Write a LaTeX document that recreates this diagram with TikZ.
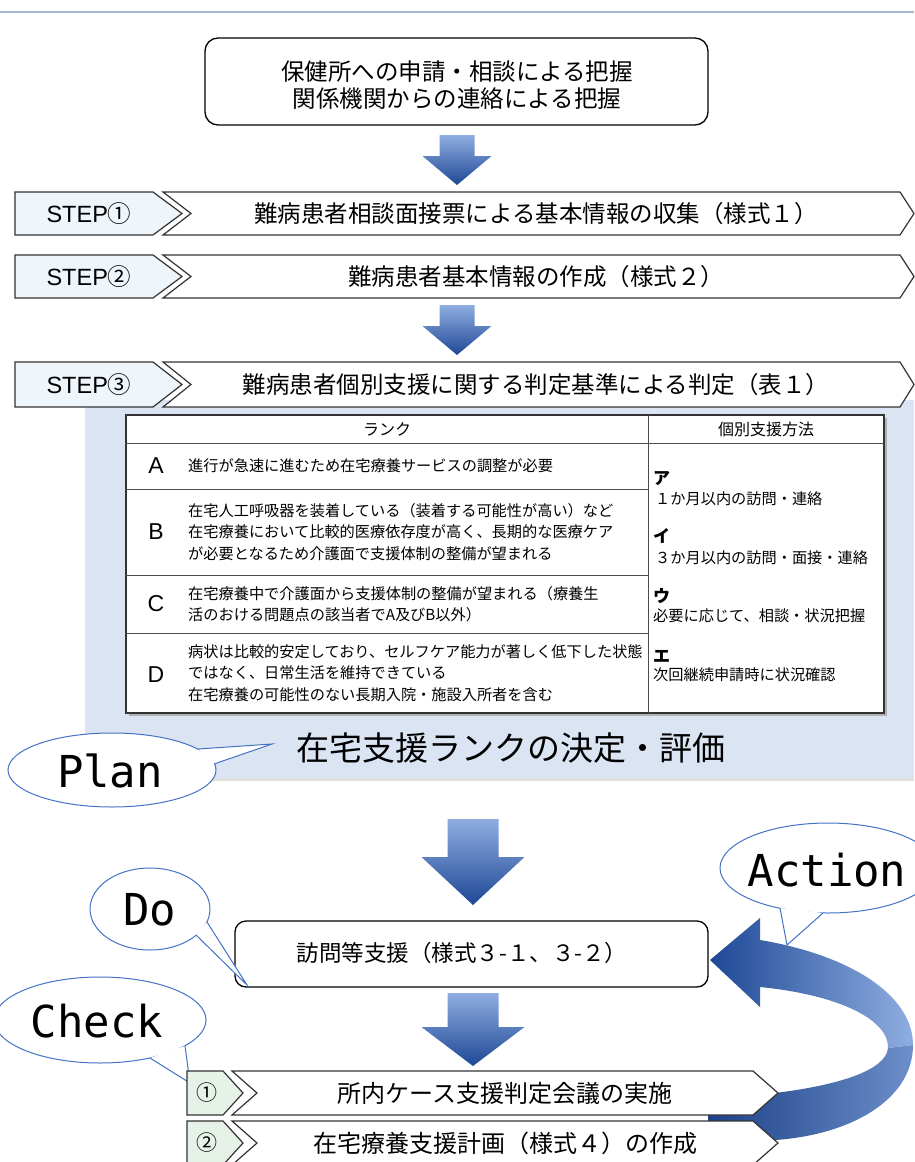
\documentclass[tikz,border=0pt]{standalone}
\usepackage{fontspec}
\setmainfont{Noto Sans CJK JP}
\newfontfamily\latin{Liberation Sans}
\newfontfamily\mono{DejaVu Sans Mono}
\newfontfamily\cjkf{Noto Sans CJK JP}
\definecolor{arrowlight}{RGB}{143,173,224}
\definecolor{arrowdark}{RGB}{30,72,150}
\definecolor{panelblue}{RGB}{219,228,243}
\definecolor{bubbleblue}{RGB}{68,114,196}
\definecolor{stepfill}{RGB}{238,245,251}
\definecolor{checkfill}{RGB}{230,242,232}
\definecolor{rulegray}{RGB}{165,185,205}
\newcommand\jfont[2]{\fontsize{#1}{#2}\selectfont}
\tikzset{
  stepleft/.style={draw=black!80, line width=1.2pt, fill=stepfill},
  checkleft/.style={draw=black!80, line width=1.2pt, fill=checkfill},
  stepright/.style={draw=black!80, line width=1.2pt, fill=white},
  steptext/.style={font=\jfont{23.5}{28}, inner sep=0pt},
  steplabel/.style={font=\latin\jfont{23.5}{28}, inner sep=0pt},
  bubble/.style={draw=bubbleblue, line width=1pt, fill=white},
  bubbletext/.style={font=\mono\jfont{44}{50}, inner sep=0pt},
  tabtext/.style={font=\jfont{15.2}{21.5}, anchor=west, inner sep=0pt, align=left},
  tabhead/.style={font=\jfont{16}{20}, inner sep=0pt},
  ranklet/.style={font=\latin\jfont{23}{26}, inner sep=0pt},
  kanalet/.style={font=\jfont{17}{20}\bfseries, anchor=west, inner sep=0pt},
  boxstyle/.style={draw=black, line width=1.3pt, fill=white, rounded corners=13pt},
  tabline/.style={draw=black!70, line width=1pt},
}
\newcommand\stepbar[5]{%
  \pgfmathsetmacro\ym{(#2+#3)/2}%
  \path[stepleft] (15,#2) -- (153,#2) -- (182,\ym) -- (153,#3) -- (15,#3) -- cycle;
  \path[stepright] (163,#2) -- (900,#2) -- (914,\ym) -- (900,#3) -- (163,#3) -- (191,\ym) -- cycle;
  \node[steplabel] (#1l) at (89,\ym) {#4};
  \node[steptext] (#1) at (536,\ym) {#5};
}
\newcommand\checkbar[5]{%
  \pgfmathsetmacro\ym{(#2+#3)/2}%
  \path[checkleft] (187,#2) -- (223,#2) -- (243,\ym) -- (223,#3) -- (187,#3) -- cycle;
  \path[stepright] (232,#2) -- (753,#2) -- (778,\ym) -- (753,#3) -- (232,#3) -- (257,\ym) -- cycle;
  \node[font=\jfont{21}{24}, inner sep=0pt] (#1l) at (207,\ym) {#4};
  \node[steptext, font=\jfont{24}{28}] (#1) at (505,\ym) {#5};
}
\newcommand\bigdown[6]{%
  \shade[top color=arrowlight, bottom color=arrowdark]
    (#1-#5,#2) -- (#1+#5,#2) -- (#1+#5,#3) -- (#1+#6,#3) -- (#1,#4)
    -- (#1-#6,#3) -- (#1-#5,#3) -- cycle;
}
\begin{document}
\begin{tikzpicture}[x=1pt,y=-1pt]
\useasboundingbox (0,0) rectangle (914,1162);
\fill[white] (0,0) rectangle (914,1162);
% top rule
\draw[rulegray, line width=2pt] (0,12) -- (914,12);
% top box
\draw[boxstyle] (205,38) rectangle (708,125);
\node[font=\jfont{23.5}{27}, align=center, inner sep=0pt] (start) at (457,85)
  {保健所への申請・相談による把握\\関係機関からの連絡による把握};
\bigdown{457}{135}{156}{185}{17.5}{34.5}
% steps 1,2
\stepbar{s1}{192}{235}{STEP{\cjkf ①}}{難病患者相談面接票による基本情報の収集（様式１）}
\stepbar{s2}{255}{298}{STEP{\cjkf ②}}{難病患者基本情報の作成（様式２）}
\bigdown{457}{305}{326}{355}{17.5}{34.5}
% panel
\fill[black!12] (88,403) rectangle (914,781);
\fill[panelblue] (85,400) rectangle (914,778);
\stepbar{s3}{362}{407}{STEP{\cjkf ③}}{難病患者個別支援に関する判定基準による判定（表１）}
% table
\fill[black!30] (129,418) rectangle (887,716);
\draw[black!80, line width=1.4pt, fill=white] (126,415) rectangle (884,713);
\draw[tabline] (648,415) -- (648,713);
\draw[tabline] (126,443) -- (884,443);
\draw[tabline] (126,489) -- (648,489);
\draw[tabline] (126,575) -- (648,575);
\draw[tabline] (126,633) -- (648,633);
\node[tabhead] (hrank) at (387,429) {ランク};
\node[tabhead] (hmeth) at (766,429) {個別支援方法};
\node[ranklet] (ra) at (156,466) {A};
\node[ranklet] (rb) at (156,532) {B};
\node[ranklet] (rc) at (156,604) {C};
\node[ranklet] (rd) at (156,675) {D};
\node[tabtext] (ta) at (188,466) {進行が急速に進むため在宅療養サービスの調整が必要};
\node[tabtext] (tb) at (188,532) {在宅人工呼吸器を装着している（装着する可能性が高い）など\\在宅療養において比較的医療依存度が高く、長期的な医療ケア\\が必要となるため介護面で支援体制の整備が望まれる};
\node[tabtext] (tc) at (188,604) {在宅療養中で介護面から支援体制の整備が望まれる（療養生\\活のおける問題点の該当者でA及びB以外）};
\node[tabtext] (td) at (188,673) {病状は比較的安定しており、セルフケア能力が著しく低下した状態\\ではなく、日常生活を維持できている\\在宅療養の可能性のない長期入院・施設入所者を含む};
\node[kanalet] (ka) at (653,479) {ア};
\node[tabtext] (ma) at (655,499) {１か月以内の訪問・連絡};
\node[kanalet] (ki) at (653,536) {イ};
\node[tabtext] (mi) at (655,558) {３か月以内の訪問・面接・連絡};
\node[kanalet] (ku) at (653,596) {ウ};
\node[tabtext] (mu) at (653,616) {必要に応じて、相談・状況把握};
\node[kanalet] (ke) at (653,656) {エ};
\node[tabtext] (me) at (653,675) {次回継続申請時に状況確認};
\node[font=\jfont{33}{36}, inner sep=0pt] (rankdec) at (511,748) {在宅支援ランクの決定・評価};
% Plan bubble
\draw[bubble] (112,770) ellipse (104 and 37);
\fill[white] (198,749) -- (272,744) -- (214,764) -- cycle;
\draw[bubbleblue, line width=1pt] (198,749) -- (272,744) -- (214,764);
\node[bubbletext] (plan) at (110,771) {Plan};
% arrow 3
\bigdown{473}{819}{857}{905}{25.5}{51.5}
% curved action arrow
\shade[left color=arrowdark, right color=arrowlight]
  (913,1045) .. controls (913,995) and (850,955) .. (760,940) -- (760,918) -- (710,960)
  -- (760,1007) -- (760,987) .. controls (840,995) and (889,1020) .. (888,1048) -- cycle;
\shade[left color=arrowdark!90!black, right color=arrowlight!70!arrowdark]
  (913,1045) .. controls (913,1100) and (850,1135) .. (775,1140) -- (708,1140) -- (708,1093)
  -- (775,1093) .. controls (840,1085) and (886,1070) .. (888,1048) -- cycle;
% Do box
\draw[boxstyle, rounded corners=11pt] (235,921) rectangle (708,987);
\node[font=\jfont{22.5}{26}, inner sep=0pt] (dobox) at (462,953) {訪問等支援（様式３-１、３-２）};
% Do bubble
\draw[bubble] (150,909) ellipse (60 and 41);
\fill[white] (196,935) -- (247,985) -- (207,922) -- cycle;
\draw[bubbleblue, line width=1pt] (196,935) -- (247,985) -- (207,922);
\node[bubbletext] (do) at (150,910) {Do};
% Action bubble
\draw[bubble] (828,868) ellipse (108 and 45);
\fill[white] (780,908) -- (787,945) -- (823,913) -- cycle;
\draw[bubbleblue, line width=1pt] (780,908) -- (787,945) -- (823,913);
\node[bubbletext] (act) at (827,870) {Action};
% arrow 4
\bigdown{473}{993}{1027}{1066}{25.5}{51.5}
% Check bubble
\draw[bubble] (100,1020) ellipse (106 and 43);
\fill[white] (150,1058) -- (190,1083) -- (185,1046) -- cycle;
\draw[bubbleblue, line width=1pt] (150,1058) -- (190,1083) -- (185,1046);
\node[bubbletext] (check) at (97,1021) {Check};
% check bars
\checkbar{c1}{1071}{1115}{①}{所内ケース支援判定会議の実施}
\checkbar{c2}{1121}{1165}{②}{在宅療養支援計画（様式４）の作成}
\end{tikzpicture}
\end{document}
